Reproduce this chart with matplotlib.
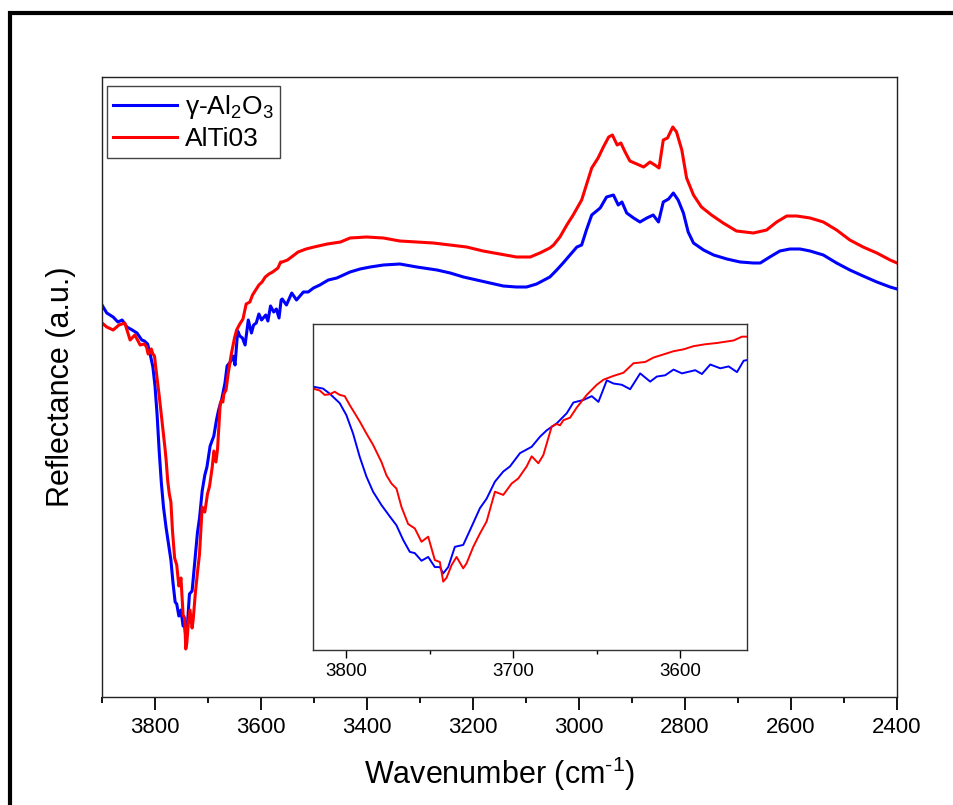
import numpy as np
import matplotlib
matplotlib.use("Agg")
import matplotlib.pyplot as plt
from matplotlib.patches import Rectangle
from matplotlib.ticker import MultipleLocator

plt.rcParams['font.family'] = ['Liberation Sans', 'DejaVu Sans']
plt.rcParams['mathtext.fontset'] = 'custom'
plt.rcParams['mathtext.rm'] = 'Liberation Sans'
plt.rcParams['mathtext.it'] = 'Liberation Sans:italic'
plt.rcParams['mathtext.bf'] = 'Liberation Sans:bold'

# ---- data (wavenumber cm^-1, reflectance a.u.) ----
wn_al2o3 = [3900, 3891, 3879, 3870, 3862, 3853, 3843, 3834, 3825,
            3820, 3814, 3810, 3804, 3800, 3796, 3792, 3788, 3784, 3779, 3774, 3770,
            3766, 3762, 3759, 3755, 3751, 3747, 3744, 3742, 3739, 3735, 3730, 3726,
            3720, 3716, 3711, 3706, 3702, 3696, 3689, 3684, 3680, 3674, 3668, 3664,
            3658, 3653, 3649, 3644, 3640, 3635, 3630, 3624, 3618, 3614, 3609, 3604,
            3599, 3591, 3587, 3582, 3576, 3571, 3566, 3562, 3560,
            3552, 3542, 3533, 3520, 3511, 3501, 3489, 3473, 3457, 3432, 3413, 3394,
            3369, 3338, 3306, 3268, 3243, 3218, 3193, 3168, 3143, 3118, 3099, 3080,
            3055, 3042, 3030, 3017, 3004, 2995, 2986, 2976, 2960, 2948, 2935, 2926,
            2919, 2910, 2897, 2885, 2872, 2860, 2850, 2841, 2831, 2822, 2813, 2803,
            2794, 2784, 2765, 2746, 2721, 2696, 2671, 2658, 2640, 2621, 2602, 2583,
            2564, 2539, 2514, 2489, 2464, 2438, 2413, 2400]
r_al2o3 = [392, 384, 380, 375, 377, 370, 367, 364, 357,
           356, 353, 345, 330, 311, 282, 245, 214, 190, 169, 151, 137,
           114, 95, 93, 81, 87, 71, 71, 61, 71, 103, 106, 129,
           164, 179, 206, 222, 230, 251, 261, 277, 287, 298, 314, 331,
           335, 341, 332, 366, 361, 359, 352, 377, 364, 372, 374, 383,
           377, 382, 376, 391, 385, 388, 379, 397, 398,
           392, 404, 397, 405, 405, 409, 412, 417, 419, 425, 428, 430,
           432, 433, 430, 427, 424, 420, 417, 414, 411, 410, 410, 413,
           420, 427, 434, 442, 450, 452, 467, 482, 489, 500, 502, 492,
           495, 484, 479, 475, 479, 482, 475, 495, 498, 504, 497, 484,
           465, 454, 447, 442, 438, 435, 434, 434, 440, 446, 448, 448,
           446, 442, 434, 427, 421, 415, 410, 408]

wn_alti03 = [3900, 3891, 3879, 3868, 3857, 3847, 3838, 3828,
             3820, 3816, 3813, 3810, 3807, 3804, 3801, 3798, 3795, 3792, 3788, 3784,
             3781, 3779, 3776, 3773, 3770, 3767, 3763, 3759, 3755, 3751, 3747, 3744,
             3742, 3740, 3737, 3734, 3730, 3728, 3724, 3720, 3716, 3711, 3706, 3701,
             3697, 3692, 3689, 3685, 3682, 3677, 3674, 3672, 3670, 3666, 3662, 3656,
             3650, 3646, 3640, 3634, 3628, 3621, 3616, 3610, 3604, 3598, 3592, 3585,
             3578, 3568, 3563, 3560,
             3550, 3530, 3515, 3500, 3475, 3450, 3432, 3401, 3369, 3338, 3306, 3275,
             3243, 3212, 3181, 3149, 3118, 3092, 3074, 3055, 3048, 3036, 3023, 3011,
             2995, 2986, 2976, 2964, 2954, 2944, 2937, 2928, 2921, 2913, 2904, 2891,
             2878, 2866, 2857, 2849, 2841, 2833, 2823, 2816, 2806, 2797, 2784, 2769,
             2750, 2728, 2703, 2671, 2646, 2627, 2608, 2589, 2564, 2539, 2514, 2489,
             2464, 2438, 2413, 2400]
r_alti03 = [374, 370, 367, 372, 374, 357, 362, 352,
            353, 350, 343, 344, 348, 343, 341, 327, 314, 301, 282, 264,
            248, 237, 216, 203, 195, 166, 139, 132, 111, 119, 82, 79,
            48, 54, 74, 87, 69, 77, 103, 124, 143, 190, 185, 203,
            211, 230, 246, 235, 248, 293, 297, 295, 303, 307, 323, 343,
            359, 367, 373, 378, 393, 395, 402, 407, 412, 415, 420, 423,
            425, 429, 435, 435,
            437, 445, 448, 450, 453, 455, 459, 460, 459, 456, 455, 454,
            452, 450, 446, 443, 440, 440, 444, 449, 452, 460, 472, 482,
            497, 512, 529, 539, 550, 560, 562, 552, 554, 545, 536, 533,
            530, 535, 532, 529, 557, 559, 570, 565, 547, 519, 502, 490,
            482, 474, 466, 464, 467, 475, 481, 481, 479, 475, 467, 457,
            450, 444, 437, 434]

series_labels = [r'γ-Al$_2$O$_3$', 'AlTi03']
main_xticks = [3800, 3600, 3400, 3200, 3000, 2800, 2600, 2400]
inset_xticks = [3800, 3700, 3600]

blue = '#0000FF'
red = '#FF0000'

W, H = 954, 805
fig = plt.figure(figsize=(W / 100, H / 100), dpi=100)

# outer frame (cut off at right/bottom)
fig.add_artist(Rectangle((10 / W, -0.2), 2.0, 1 - 13.5 / H + 0.2,
                         transform=fig.transFigure, fill=False,
                         edgecolor='black', linewidth=3.0, clip_on=False))

ax = fig.add_axes([102 / W, 1 - 697 / H, (897 - 102) / W, (697 - 77) / H])
ax.plot(wn_al2o3, r_al2o3, color=blue, lw=2.2, label=series_labels[0],
        solid_joinstyle='round')
ax.plot(wn_alti03, r_alti03, color=red, lw=2.2, label=series_labels[1],
        solid_joinstyle='round')
ax.set_xlim(3900, 2400)
ax.set_ylim(0, 620)
ax.set_yticks([])
ax.set_xticks(main_xticks)
ax.xaxis.set_minor_locator(MultipleLocator(100))
ax.tick_params(axis='x', which='major', direction='out', length=9.5, width=1.3,
               labelsize=16, pad=5, top=False)
ax.tick_params(axis='x', which='minor', direction='out', length=4.5, width=1.3,
               top=False)
for s in ax.spines.values():
    s.set_linewidth(1.0)
    s.set_color('#222222')
ax.set_xlabel(r'Wavenumber (cm$^{\text{-}1}$)', fontsize=22, labelpad=12)
ax.set_ylabel('Reflectance (a.u.)', fontsize=22)
ax.yaxis.set_label_coords(-26 / 795, 0.5)

leg = ax.legend(loc='upper left', fontsize=19, handlelength=2.4,
                handletextpad=0.3, borderpad=0.25, labelspacing=0.25,
                fancybox=False, framealpha=1, bbox_to_anchor=(0.006, 0.985),
                borderaxespad=0)
leg.get_frame().set_edgecolor('#444444')
leg.get_frame().set_linewidth(1.0)

# inset
axi = fig.add_axes([313 / W, 1 - 650 / H, (747 - 313) / W, (650 - 324) / H])
axi.plot(wn_al2o3, r_al2o3, color=blue, lw=1.4, solid_joinstyle='round')
axi.plot(wn_alti03, r_alti03, color=red, lw=1.4, solid_joinstyle='round')
axi.set_xlim(3820, 3560)
axi.set_ylim(-60, 455)
axi.set_yticks([])
axi.set_xticks(inset_xticks)
axi.xaxis.set_minor_locator(MultipleLocator(50))
axi.tick_params(axis='x', which='major', direction='out', length=5.5, width=1.0,
                labelsize=13.5, pad=4)
axi.tick_params(axis='x', which='minor', direction='out', length=3, width=1.0)
for s in axi.spines.values():
    s.set_linewidth(1.0)
    s.set_color('#333333')

fig.savefig('out.png', dpi=100)
